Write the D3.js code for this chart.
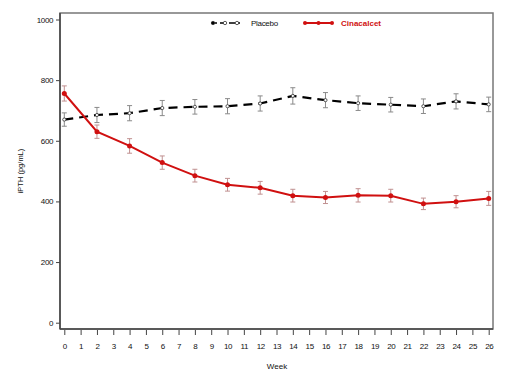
<!DOCTYPE html>
<html><head><meta charset="utf-8">
<script src="https://cdn.jsdelivr.net/npm/d3@7"></script>
<style>body{margin:0;background:#fff}svg{display:block}text{font-family:"Liberation Sans",Arial,sans-serif}</style>
</head><body><svg id="c" width="519" height="382"></svg>
<script>
const weeks = [0,2,4,6,8,10,12,14,16,18,20,22,24,26];
const placebo = [670,685,691,708,712,714,723,748,734,724,719,714,730,720];
const placeboErr = [22,25,25,25,24,25,25,27,25,24,24,24,25,24];
const cinacalcet = [756,630,583,528,485,455,445,419,413,420,419,392,399,410];
const cinacalcetErr = [25,22,24,22,21,21,21,21,20,22,21,19,20,23];
const xTicks = d3.range(0,27);
const yTicks = [0,200,400,600,800,1000];

const svg = d3.select("#c");
const x = d3.scaleLinear().domain([0,26]).range([64.3,488.7]);
const y = d3.scaleLinear().domain([0,1000]).range([322.7,19.5]);
const L=60,R=493,T=13,B=329;

// frame
svg.append("rect").attr("x",L).attr("y",T).attr("width",R-L).attr("height",B-T)
  .attr("fill","none").attr("stroke","#777").attr("stroke-width",1.5);
svg.append("line").attr("x1",L).attr("x2",L).attr("y1",T).attr("y2",B).attr("stroke","#444").attr("stroke-width",1.5);
svg.append("line").attr("x1",L).attr("x2",R).attr("y1",B).attr("y2",B).attr("stroke","#444").attr("stroke-width",1.5);

// y axis
const ya = svg.append("g").attr("transform",`translate(${L},0)`)
  .call(d3.axisLeft(y).tickValues(yTicks).tickFormat(d3.format("d")).tickSize(4).tickPadding(3));
ya.select(".domain").remove();
ya.selectAll("line").attr("stroke","#444");
ya.selectAll("text").attr("font-size",8).attr("letter-spacing",-0.4).attr("fill","#111");

// x axis
const xa = svg.append("g").attr("transform",`translate(0,${B+1})`)
  .call(d3.axisBottom(x).tickValues(xTicks).tickFormat(d3.format("d")).tickSize(5).tickPadding(8));
xa.select(".domain").remove();
xa.selectAll("line").attr("stroke","#444");
xa.selectAll("text").attr("font-size",8).attr("letter-spacing",-0.4).attr("fill","#111");

svg.append("text").attr("x",277).attr("y",369).attr("text-anchor","middle")
  .attr("font-size",8).attr("fill","#111").text("Week");
svg.append("text").attr("transform","translate(23,171) rotate(-90)").attr("text-anchor","middle")
  .attr("font-size",7.5).attr("fill","#111").text("iPTH (pg/mL)");

function errBars(vals, errs, color){
  const g = svg.append("g").attr("stroke",color).attr("stroke-width",1);
  weeks.forEach((w,i)=>{
    const cx=x(w), y1=y(vals[i]-errs[i]), y2=y(vals[i]+errs[i]);
    g.append("line").attr("x1",cx).attr("x2",cx).attr("y1",y1).attr("y2",y2);
    g.append("line").attr("x1",cx-2.5).attr("x2",cx+2.5).attr("y1",y1).attr("y2",y1);
    g.append("line").attr("x1",cx-2.5).attr("x2",cx+2.5).attr("y1",y2).attr("y2",y2);
  });
}
errBars(placebo, placeboErr, "#8a8a8a");
errBars(cinacalcet, cinacalcetErr, "#c09090");

const line = d3.line().x((d,i)=>x(weeks[i])).y(d=>y(d));
svg.append("path").datum(placebo).attr("d",line).attr("fill","none")
  .attr("stroke","#000").attr("stroke-width",2.2).attr("stroke-dasharray","9,6");
svg.selectAll(".pm").data(placebo).enter().append("circle")
  .attr("cx",(d,i)=>x(weeks[i])).attr("cy",d=>y(d)).attr("r",1.6)
  .attr("fill","#fff").attr("stroke","#333").attr("stroke-width",0.8);

svg.append("path").datum(cinacalcet).attr("d",line).attr("fill","none")
  .attr("stroke","#d01010").attr("stroke-width",2);
svg.selectAll(".cm").data(cinacalcet).enter().append("circle")
  .attr("cx",(d,i)=>x(weeks[i])).attr("cy",d=>y(d)).attr("r",2.5).attr("fill","#d01010");

// legend
const ly=23;
svg.append("line").attr("x1",211).attr("x2",240).attr("y1",ly).attr("y2",ly)
  .attr("stroke","#000").attr("stroke-width",1.6).attr("stroke-dasharray","6,3");
[213,225,237].forEach((cx,i)=>svg.append("circle").attr("cx",cx).attr("cy",ly).attr("r",1.7)
  .attr("fill",i==0?"#000":"#fff").attr("stroke","#333").attr("stroke-width",0.8));
svg.append("text").attr("x",251).attr("y",ly+3).attr("font-size",8).attr("letter-spacing",-0.3).attr("fill","#111").text("Placebo");
svg.append("line").attr("x1",304).attr("x2",333).attr("y1",ly).attr("y2",ly)
  .attr("stroke","#d01010").attr("stroke-width",2);
[305,318.5,332].forEach(cx=>svg.append("circle").attr("cx",cx).attr("cy",ly).attr("r",2).attr("fill","#d01010"));
svg.append("text").attr("x",341).attr("y",ly+3).attr("font-size",8).attr("font-weight","bold")
  .attr("font-family","'Liberation Serif',serif").attr("fill","#d01010").text("Cinacalcet");
</script></body></html>
